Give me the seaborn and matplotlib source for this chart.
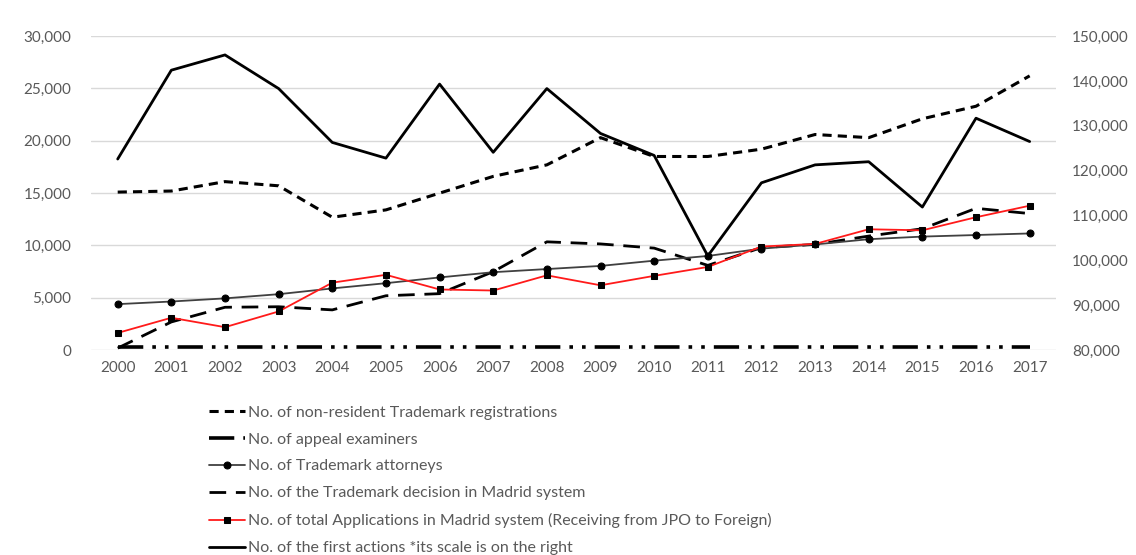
import matplotlib
matplotlib.use("Agg")
import matplotlib.pyplot as plt
import seaborn as sns
import numpy as np
import pandas as pd
from matplotlib.ticker import FuncFormatter, FixedLocator

years = [str(y) for y in range(2000, 2018)]

non_resident_reg = [15100, 15200, 16100, 15700, 12700, 13400, 15000, 16600, 17700, 20300,
                    18500, 18500, 19200, 20600, 20300, 22100, 23300, 26200]
appeal_examiners = [330] * 18
tm_attorneys = [4400, 4650, 4950, 5350, 5900, 6400, 6950, 7450, 7750, 8050,
                8550, 9000, 9700, 10100, 10600, 10850, 11000, 11150]
madrid_decisions = [200, 2700, 4100, 4150, 3850, 5200, 5400, 7500, 10350, 10150,
                    9750, 8100, 9800, 10100, 10900, 11600, 13550, 13050]
madrid_applications = [1650, 3100, 2200, 3700, 6450, 7200, 5800, 5700, 7150, 6200,
                       7100, 7950, 9900, 10150, 11550, 11450, 12700, 13800]
first_actions = [122600, 142400, 145800, 138300, 126300, 122800, 139300, 124100, 138300, 128300,
                 123400, 101000, 117300, 121300, 122000, 111900, 131700, 126500]

labels = [
    "No. of non-resident Trademark registrations",
    "No. of appeal examiners",
    "No. of Trademark attorneys",
    "No. of the Trademark decision in Madrid system",
    "No. of total Applications in Madrid system (Receiving from JPO to Foreign)",
    "No. of the first actions *its scale is on the right",
]

sns.set_theme(style="white")
plt.rcParams['font.family'] = ['Lato', 'DejaVu Sans']

fig = plt.figure(figsize=(11.36, 5.55), dpi=100)
ax = fig.add_axes([0.080, 0.369, 0.850, 0.566])
ax2 = ax.twinx()

x = np.arange(len(years))
txt = "#595959"

sns.lineplot(x=x, y=non_resident_reg, ax=ax, color="black", lw=2.2,
             linestyle=(0, (3, 2)), label=labels[0], zorder=3)
sns.lineplot(x=x, y=appeal_examiners, ax=ax, color="black", lw=2.6,
             linestyle=(0, (7, 2.5, 1, 2.5, 1, 2.5)), label=labels[1], zorder=3)
sns.lineplot(x=x, y=tm_attorneys, ax=ax, color="#404040", lw=1.3, marker="o",
             markersize=5, markerfacecolor="black", markeredgecolor="black",
             label=labels[2], zorder=4)
sns.lineplot(x=x, y=madrid_decisions, ax=ax, color="black", lw=2.0,
             linestyle=(0, (6, 3.5)), label=labels[3], zorder=3)
sns.lineplot(x=x, y=madrid_applications, ax=ax, color="#ff1a1a", lw=1.3, marker="s",
             markersize=5, markerfacecolor="black", markeredgecolor="black",
             label=labels[4], zorder=5)
sns.lineplot(x=x, y=first_actions, ax=ax2, color="black", lw=2.0,
             label=labels[5], zorder=3)

ax.set_xlim(-0.5, len(years) - 0.5)
ax.set_ylim(0, 30000)
ax2.set_ylim(80000, 150000)
ax.yaxis.set_major_locator(FixedLocator(range(0, 30001, 5000)))
ax2.yaxis.set_major_locator(FixedLocator(range(80000, 150001, 10000)))
fmt = FuncFormatter(lambda v, p: f"{int(v):,}")
ax.yaxis.set_major_formatter(fmt)
ax2.yaxis.set_major_formatter(fmt)
ax.set_xticks(x)
ax.set_xticklabels(years)

ax.grid(axis="y", color="#d9d9d9", lw=1.0)
ax.set_axisbelow(True)
for a in (ax, ax2):
    for s in a.spines.values():
        s.set_visible(False)
    a.set_xlabel("")
    a.set_ylabel("")
ax.tick_params(axis="y", length=0, pad=14, labelsize=11, labelcolor=txt)
ax.tick_params(axis="x", length=0, pad=8, labelsize=11, labelcolor=txt)
ax2.tick_params(axis="y", length=0, pad=11, labelsize=11, labelcolor=txt)

h1, l1 = ax.get_legend_handles_labels()
h2, l2 = ax2.get_legend_handles_labels()
if ax.get_legend():
    ax.get_legend().remove()
if ax2.get_legend():
    ax2.get_legend().remove()
leg = fig.legend(h1 + h2, l1 + l2, loc="upper left",
                 bbox_to_anchor=(203 / 1136, 1 - 399 / 555), frameon=False,
                 fontsize=11.5, handlelength=2.2, handletextpad=0.2, labelspacing=0.8,
                 borderaxespad=0)
for t in leg.get_texts():
    t.set_color(txt)

fig.savefig("out.png", dpi=100)
